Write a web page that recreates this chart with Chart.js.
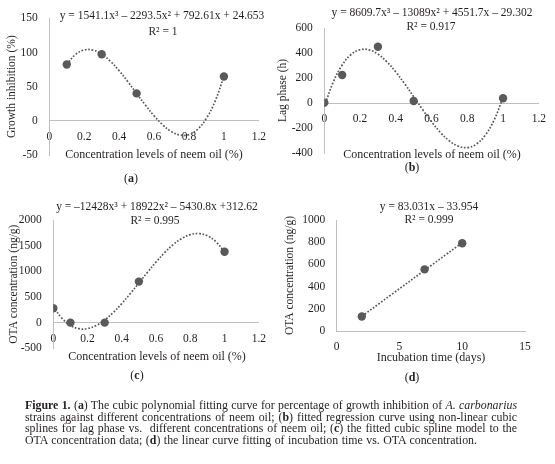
<!DOCTYPE html>
<html><head><meta charset="utf-8">
<script src="https://cdn.jsdelivr.net/npm/chart.js@4.4.1/dist/chart.umd.min.js"></script>
<style>
html,body{margin:0;padding:0;background:#fff;}
body{width:555px;height:464px;position:relative;overflow:hidden;font-family:'Liberation Serif',serif;color:#231f20;}
canvas{position:absolute;}
.t{position:absolute;transform:translate(-50%,-50%);white-space:nowrap;line-height:1;}
.eq{font-size:11.5px;}
.xt{font-size:12px;}
.pl{font-size:12px;}
.cap{position:absolute;left:25px;font-size:11px;line-height:12px;height:12px;white-space:nowrap;text-align:left;}
.cap.j{text-align:justify;text-align-last:justify;}
</style></head>
<body>
<canvas id="ca" width="275" height="190" style="left:0;top:0"></canvas>
<canvas id="cb" width="280" height="190" style="left:275px;top:0"></canvas>
<canvas id="cc" width="275" height="190" style="left:0;top:195px"></canvas>
<canvas id="cd" width="280" height="190" style="left:275px;top:195px"></canvas>

<div class="t eq" style="left:162px;top:16px">y = 1541.1x³ – 2293.5x² + 792.61x + 24.653</div>
<div class="t eq" style="left:163px;top:32px">R² = 1</div>
<div class="t xt" style="left:154px;top:154px">Concentration levels of neem oil (%)</div>
<div class="t pl" style="left:131px;top:178px">(<b>a</b>)</div>

<div class="t eq" style="left:432px;top:13px">y = 8609.7x³ – 13089x² + 4551.7x – 29.302</div>
<div class="t eq" style="left:431px;top:27px">R² = 0.917</div>
<div class="t xt" style="left:432px;top:154px">Concentration levels of neem oil (%)</div>
<div class="t pl" style="left:412px;top:167px">(<b>b</b>)</div>

<div class="t eq" style="left:157px;top:207px">y = –12428x³ + 18922x² – 5430.8x +312.62</div>
<div class="t eq" style="left:155px;top:221px">R² = 0.995</div>
<div class="t xt" style="left:157px;top:356px">Concentration levels of neem oil (%)</div>
<div class="t pl" style="left:137px;top:375px">(<b>c</b>)</div>

<div class="t eq" style="left:429px;top:207px">y = 83.031x – 33.954</div>
<div class="t eq" style="left:429px;top:220px">R² = 0.999</div>
<div class="t xt" style="left:431px;top:357px">Incubation time (days)</div>
<div class="t pl" style="left:412px;top:377px">(<b>d</b>)</div>

<div class="cap" data-w="492" style="top:399px;width:492px"><span><b>Figure 1.</b> (<b>a</b>) The cubic polynomial fitting curve for percentage of growth inhibition of <i>A. carbonarius</i></span></div>
<div class="cap" data-w="492" style="top:410.7px;width:492px"><span>strains against different concentrations of neem oil; (<b>b</b>) fitted regression curve using non-linear cubic</span></div>
<div class="cap" data-w="492" style="top:422.4px;width:492px"><span>splines for lag phase vs.&nbsp; different concentrations of neem oil; (<b>c</b>) the fitted cubic spline model to the</span></div>
<div class="cap" data-w="452" style="top:434.1px;width:452px"><span>OTA concentration data; (<b>d</b>) the linear curve fitting of incubation time vs. OTA concentration.</span></div>

<script>
// ---- Panel (a): growth inhibition ----
const aPtX = [0.1, 0.3, 0.5, 1];
const aPtY = [82.5, 97.6, 40.2, 64.9];
const aTrendX = [0.1, 0.15, 0.2, 0.25, 0.3, 0.35, 0.4, 0.45, 0.5, 0.55, 0.6, 0.65, 0.7, 0.75, 0.8, 0.85, 0.9, 0.95, 1.0];
const aTrendY = [82.5, 97.1, 103.8, 103.5, 97.6, 87.2, 73.4, 57.3, 40.2, 23.2, 7.4, -5.9, -15.8, -20.8, -20.1, -12.3, 3.7, 29.0, 64.9];
const aXTicks = [0, 0.2, 0.4, 0.6, 0.8, 1, 1.2];
const aXLabels = ['0', '0.2', '0.4', '0.6', '0.8', '1', '1.2'];
const aYTicks = [-50, 0, 50, 100, 150];
const aYLabels = ['-50', '0', '50', '100', '150'];

// ---- Panel (b): lag phase ----
const bPtX = [0, 0.1, 0.3, 0.5, 1];
const bPtY = [3, 224, 450, 16, 38];
const bTrendX = [0, 0.05, 0.1, 0.15, 0.2, 0.25, 0.3, 0.35, 0.4, 0.45, 0.5, 0.55, 0.6, 0.65, 0.7, 0.75, 0.8, 0.85, 0.9, 0.95, 1.0];
const bTrendY = [-29.3, 166.6, 303.6, 388.0, 426.4, 425.1, 390.7, 329.6, 248.2, 153.0, 50.5, -52.8, -150.6, -236.3, -303.6, -345.9, -356.7, -329.9, -258.4, -136.2, 43.1];
const bXTicks = [0, 0.2, 0.4, 0.6, 0.8, 1, 1.2];
const bXLabels = ['0', '0.2', '0.4', '0.6', '0.8', '1', '1.2'];
const bYTicks = [-400, -200, 0, 200, 400, 600];
const bYLabels = ['-400', '-200', '0', '200', '400', '600'];

// ---- Panel (c): OTA concentration vs neem oil ----
const cPtX = [0, 0.1, 0.3, 0.5, 1];
const cPtY = [280, 0, 0, 800, 1380];
const cTrendX = [0, 0.05, 0.1, 0.15, 0.2, 0.25, 0.3, 0.35, 0.4, 0.45, 0.5, 0.55, 0.6, 0.65, 0.7, 0.75, 0.8, 0.85, 0.9, 0.95, 1.0];
const cTrendY = [312.6, 86.8, -53.7, -118.2, -116.1, -56.6, 50.8, 196.9, 372.4, 568.0, 774.2, 981.9, 1181.6, 1364.1, 1520.0, 1640.1, 1714.9, 1735.2, 1691.7, 1575.0, 1375.8];
const cXTicks = [0, 0.2, 0.4, 0.6, 0.8, 1, 1.2];
const cXLabels = ['0', '0.2', '0.4', '0.6', '0.8', '1', '1.2'];
const cYTicks = [-500, 0, 500, 1000, 1500, 2000];
const cYLabels = ['-500', '0', '500', '1000', '1500', '2000'];

// ---- Panel (d): OTA concentration vs incubation time ----
const dPtX = [2, 7, 10];
const dPtY = [130, 555, 790];
const dTrendX = [2, 10];
const dTrendY = [132, 796];
const dXTicks = [0, 5, 10, 15];
const dXLabels = ['0', '5', '10', '15'];
const dYTicks = [0, 200, 400, 600, 800, 1000];
const dYLabels = ['0', '200', '400', '600', '800', '1000'];

const FONT = "'Liberation Serif', serif";
const TXT = '#231f20';
const MARK = '#595959';
const AXIS = '#bfbfbf';

// fit caption font so each line nearly fills its width (measured unjustified), then justify
(function fitCaption() {
  const lines = Array.from(document.querySelectorAll('.cap'));
  let fs = 100;
  lines.forEach(d => {
    const sp = d.querySelector('span');
    const nat = sp.getBoundingClientRect().width;
    const target = parseFloat(d.dataset.w) * 0.99;
    fs = Math.min(fs, 11 * target / nat);
  });
  lines.forEach(d => { d.style.fontSize = fs.toFixed(2) + 'px'; d.classList.add('j'); });
})();

function pairs(xs, ys) { return xs.map((x, i) => ({ x: x, y: ys[i] })); }

function panel(id, o) {
  new Chart(document.getElementById(id), {
    type: 'scatter',
    data: {
      datasets: [
        { data: pairs(o.trendX, o.trendY), showLine: true, borderColor: MARK, borderWidth: 1.7,
          borderDash: [1.7, 1.7], pointRadius: 0, tension: 0.4, fill: false, order: 2 },
        { data: pairs(o.ptX, o.ptY), showLine: false, pointRadius: 4.2, pointBackgroundColor: MARK,
          pointBorderColor: MARK, pointBorderWidth: 0, order: 1 }
      ]
    },
    options: {
      responsive: false, animation: false, events: [],
      layout: { padding: o.pad },
      plugins: { legend: { display: false }, tooltip: { enabled: false } },
      scales: {
        x: {
          type: 'linear', min: o.xTicks[0], max: o.xTicks[o.xTicks.length - 1],
          position: { y: 0 },
          grid: { display: false, drawTicks: false },
          border: { display: true, color: AXIS, width: 1 },
          ticks: { padding: 9, color: TXT, font: { family: FONT, size: 11.5 }, maxRotation: 0, autoSkip: false,
                   callback: (v, i) => o.xLabels[i] },
          afterBuildTicks: s => { s.ticks = o.xTicks.map(v => ({ value: v })); },
          afterFit: s => { s.height = 0; }
        },
        y: {
          type: 'linear', min: o.yTicks[0], max: o.yTicks[o.yTicks.length - 1], position: 'left',
          grid: { display: false, drawTicks: false },
          border: { display: true, color: AXIS, width: 1 },
          ticks: { padding: 11.5, color: TXT, font: { family: FONT, size: 11.5 }, autoSkip: false,
                   callback: (v, i) => o.yLabels[i] },
          title: { display: true, text: o.yTitle, color: TXT, font: { family: FONT, size: 11.5 },
                   padding: { top: o.ytp, bottom: 0 } },
          afterBuildTicks: s => { s.ticks = o.yTicks.map(v => ({ value: v })); },
          afterFit: s => { s.width = o.yw; }
        }
      }
    }
  });
}

panel('ca', { ptX: aPtX, ptY: aPtY, trendX: aTrendX, trendY: aTrendY, xTicks: aXTicks, xLabels: aXLabels,
  yTicks: aYTicks, yLabels: aYLabels, yTitle: 'Growth inhibition (%)', ytp: 5.1, yw: 49.3,
  pad: { left: 0, top: 18, right: 14, bottom: 35 } });
panel('cb', { ptX: bPtX, ptY: bPtY, trendX: bTrendX, trendY: bTrendY, xTicks: bXTicks, xLabels: bXLabels,
  yTicks: bYTicks, yLabels: bYLabels, yTitle: 'Lag phase (h)', ytp: 1.1, yw: 49.3,
  pad: { left: 0, top: 28, right: 14.5, bottom: 37 } });
panel('cc', { ptX: cPtX, ptY: cPtY, trendX: cTrendX, trendY: cTrendY, xTicks: cXTicks, xLabels: cXLabels,
  yTicks: cYTicks, yLabels: cYLabels, yTitle: 'OTA concentration (ng/g)', ytp: 7.1, yw: 53.3,
  pad: { left: 0, top: 25, right: 13.5, bottom: 36.7 } });
panel('cd', { ptX: dPtX, ptY: dPtY, trendX: dTrendX, trendY: dTrendY, xTicks: dXTicks, xLabels: dXLabels,
  yTicks: dYTicks, yLabels: dYLabels, yTitle: 'OTA concentration (ng/g)', ytp: 8.1, yw: 61.7,
  pad: { left: 0, top: 25, right: 30, bottom: 54 } });
</script>
</body></html>
